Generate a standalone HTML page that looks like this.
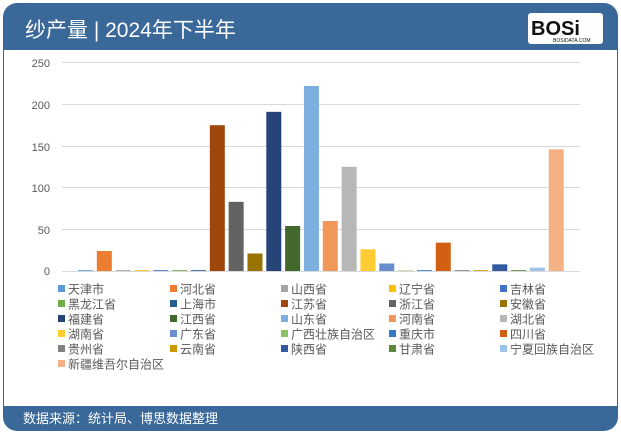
<!DOCTYPE html>
<html><head><meta charset="utf-8"><style>
html,body{margin:0;padding:0;background:#fff;}
body{width:621px;height:433px;overflow:hidden;}
text{font-family:"Liberation Sans","Noto Sans CJK SC",sans-serif;}
</style></head><body>
<svg width="621" height="433" viewBox="0 0 621 433" xmlns="http://www.w3.org/2000/svg">
<rect x="3" y="3" width="615" height="428" rx="14" fill="#3a6899"/>
<rect x="4" y="50" width="613" height="356" fill="#fff"/>
<text x="25" y="37" font-size="21" fill="#fff">纱产量 | 2024年下半年</text>
<rect x="528" y="13" width="75" height="31" rx="3" fill="#fff"/>
<text x="531" y="35" font-size="20" font-weight="bold" fill="#111" font-family="Liberation Sans,sans-serif">BOSi</text>
<text x="553" y="42" font-size="5" fill="#111">BOSIDATA.COM</text>
<text x="23" y="423" font-size="13" fill="#fff">数据来源：统计局、博思数据整理</text>
<g stroke="#d9d9d9" stroke-width="1">
<line x1="62" y1="62.5" x2="580" y2="62.5"/>
<line x1="62" y1="104.5" x2="580" y2="104.5"/>
<line x1="62" y1="146.5" x2="580" y2="146.5"/>
<line x1="62" y1="187.5" x2="580" y2="187.5"/>
<line x1="62" y1="229.5" x2="580" y2="229.5"/>
<line x1="62" y1="271.5" x2="580" y2="271.5"/>
</g>
<g font-size="11" fill="#595959" text-anchor="end">
<text x="50" y="67">250</text><text x="50" y="109">200</text><text x="50" y="151">150</text>
<text x="50" y="192">100</text><text x="50" y="234">50</text><text x="50" y="275">0</text>
</g>
<g id="bars"></g>
<g id="leg" font-size="12" fill="#595959"></g>
</svg>
<script>
var d=[["天津市",1,"#5b9bd5"],["河北省",24,"#ed7d31"],["山西省",1,"#a5a5a5"],["辽宁省",1,"#ffc000"],["吉林省",1,"#4472c4"],["黑龙江省",1,"#70ad47"],["上海市",1,"#255e91"],["江苏省",175,"#9e480e"],["浙江省",83,"#636363"],["安徽省",21,"#997300"],["福建省",191,"#264478"],["江西省",54,"#43682b"],["山东省",222,"#7cafdd"],["河南省",60,"#f1975a"],["湖北省",125,"#b7b7b7"],["湖南省",26,"#ffcd33"],["广东省",9,"#698ed0"],["广西壮族自治区",0.6,"#8cc168"],["重庆市",1,"#327dc2"],["四川省",34,"#d26012"],["贵州省",1,"#828282"],["云南省",1,"#cc9a00"],["陕西省",8,"#335aa1"],["甘肃省",1,"#5a8a39"],["宁夏回族自治区",4,"#9dc3e6"],["新疆维吾尔自治区",146,"#f4b183"]];
var ns="http://www.w3.org/2000/svg",b=document.getElementById("bars"),l=document.getElementById("leg");
var cx=[58,170,281,389,500],ry=[289,304,319,334,349,364];
d.forEach(function(e,i){
 var h=e[1]*0.8333,r=document.createElementNS(ns,"rect");
 r.setAttribute("x",78+i*18.83);r.setAttribute("width",15);r.setAttribute("y",271-h);r.setAttribute("height",h);r.setAttribute("fill",e[2]);b.appendChild(r);
 var c=i%5,w=Math.floor(i/5),s=document.createElementNS(ns,"rect");
 s.setAttribute("x",cx[c]);s.setAttribute("y",ry[w]-4);s.setAttribute("width",7);s.setAttribute("height",7);s.setAttribute("fill",e[2]);l.appendChild(s);
 var t=document.createElementNS(ns,"text");t.setAttribute("x",cx[c]+10);t.setAttribute("y",ry[w]+4.5);t.textContent=e[0];l.appendChild(t);
});
</script>
</body></html>
